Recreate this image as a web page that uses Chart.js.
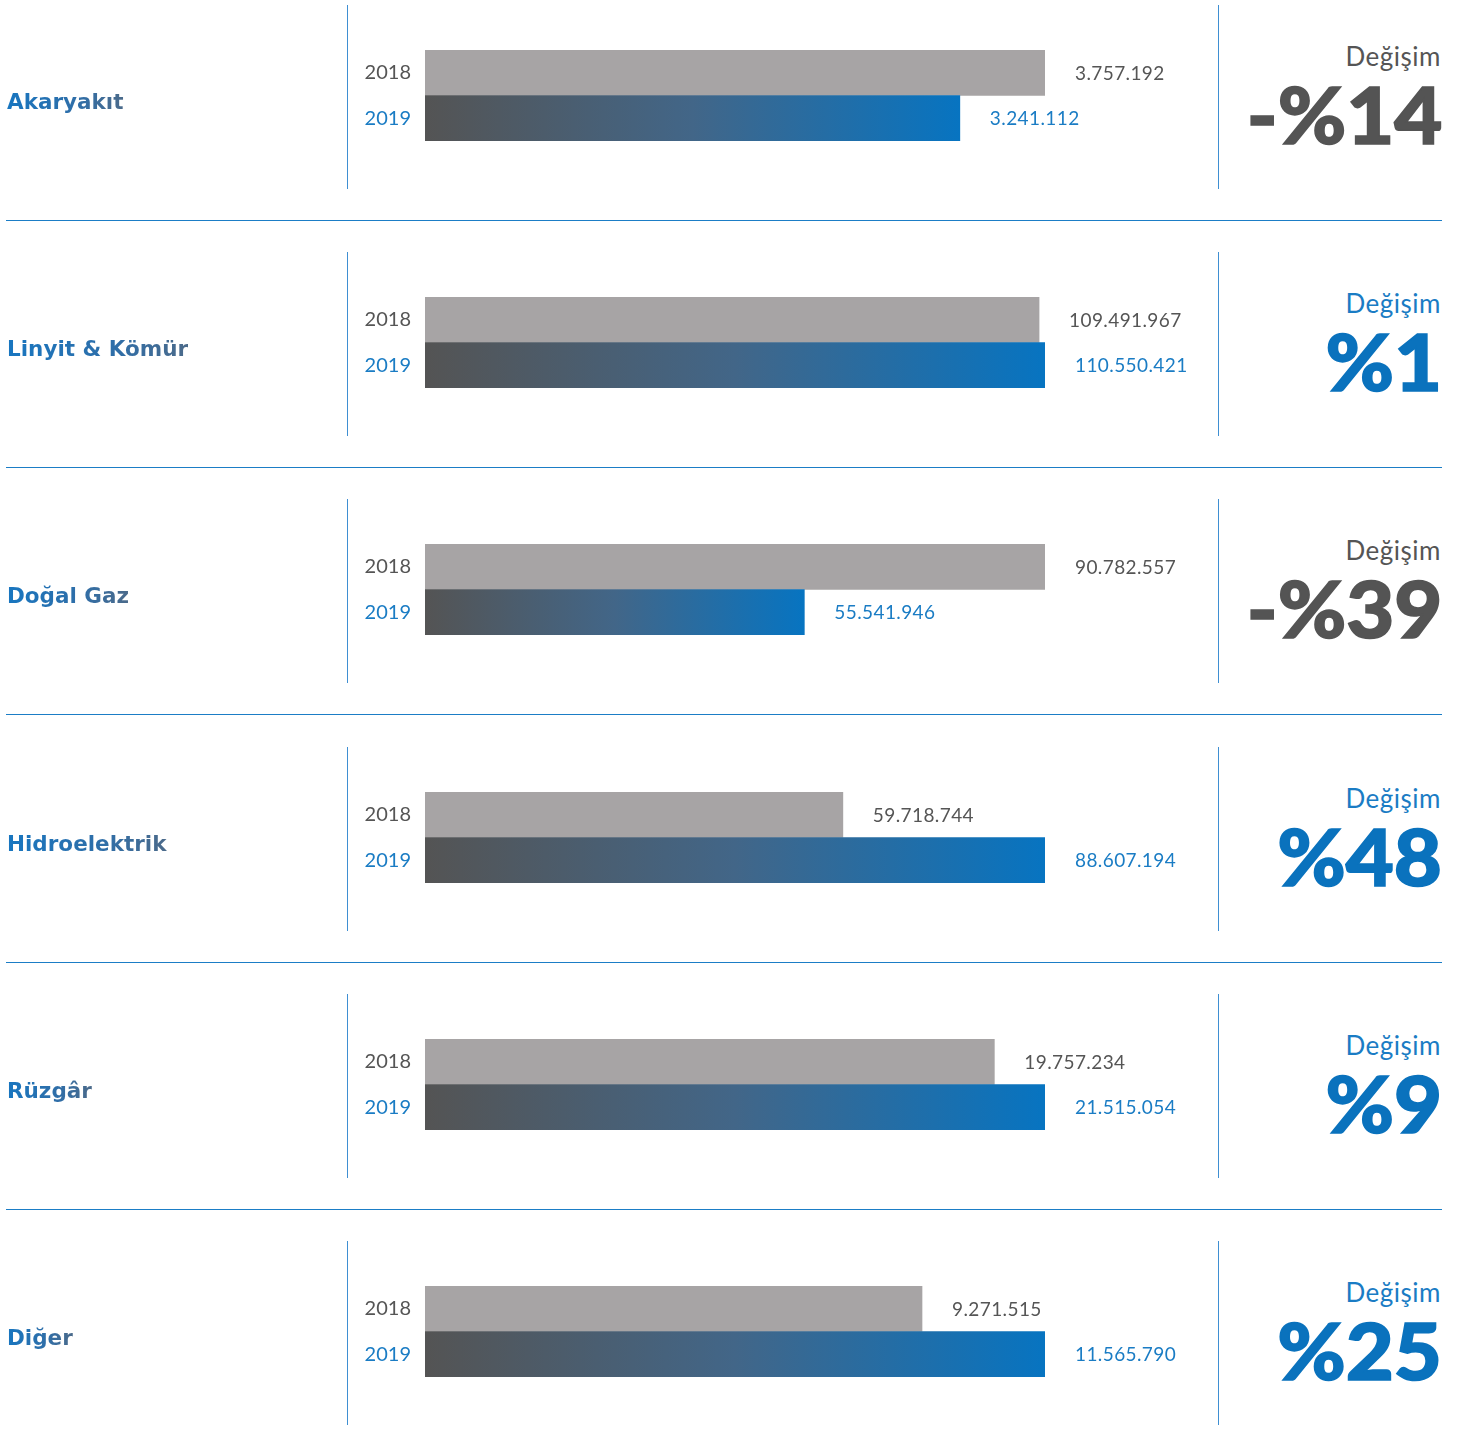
<!DOCTYPE html>
<html>
<head>
<meta charset="utf-8">
<script src="https://cdn.jsdelivr.net/npm/chart.js@4/dist/chart.umd.min.js"></script>
<style>
  html, body { margin: 0; padding: 0; background: #ffffff; }
  #wrap { position: relative; width: 1462px; height: 1448px; overflow: hidden; font-family: Lato, "Noto Sans", sans-serif; }
  .row { position: absolute; left: 0; width: 1462px; height: 247px; }
  .cat { position: absolute; left: 7px; top: 89px; font-family: "DejaVu Sans", sans-serif; font-size: 21.5px; font-weight: 700; line-height: 26px; white-space: nowrap;
         background: linear-gradient(90deg, #1876c0 0%, #2f6ea8 60%, #4b6a8a 100%); -webkit-background-clip: text; background-clip: text; color: transparent; }
  .vline { position: absolute; top: 5px; width: 1px; height: 184px; background: #3f8fd2; }
  .sep { position: absolute; left: 6px; top: 220px; width: 1436px; height: 1px; background: #1b7dc6; }
  .chg { position: absolute; right: 21px; top: 41px; font-size: 26px; line-height: 30px; font-weight: 400; text-align: right; white-space: nowrap; letter-spacing: 0.5px; }
  .big { position: absolute; right: 20px; top: 74px; font-size: 79px; line-height: 80px; font-weight: 900; text-align: right; white-space: nowrap;
         transform: scaleX(1.05); transform-origin: right center; }
  canvas.bars { position: absolute; left: 350px; top: 10px; }
</style>
</head>
<body>
<div id="wrap"></div>
<script>
// ---- data ----
const categories = ["Akaryakıt", "Linyit & Kömür", "Doğal Gaz", "Hidroelektrik", "Rüzgâr", "Diğer"];
const yearLabels = ["2018", "2019"];
const values2018 = [3757192, 109491967, 90782557, 59718744, 19757234, 9271515];
const values2019 = [3241112, 110550421, 55541946, 88607194, 21515054, 11565790];
const changeLabels = ["-%14", "%1", "-%39", "%48", "%9", "%25"];
const changeTitle = "Değişim";

// ---- styles ----
const GRAY_BAR = "#a7a4a5";
const DARK = "#555555";
const BLUE = "#1a7cc4";
const BIG_BLUE = "#0a72bd";
const ROW_H = 247.2;

function fmt(n) {
  return String(n).replace(/\B(?=(\d{3})+(?!\d))/g, ".");
}

const valueLabelPlugin = {
  id: "valueLabels",
  afterDatasetsDraw(chart) {
    const ctx = chart.ctx;
    const meta = chart.getDatasetMeta(0);
    const data = chart.data.datasets[0].data;
    ctx.save();
    ctx.font = "400 19px Lato, 'Noto Sans', sans-serif";
    try { ctx.letterSpacing = "0.4px"; } catch (e) {}
    ctx.textBaseline = "middle";
    ctx.textAlign = "left";
    meta.data.forEach((bar, i) => {
      ctx.fillStyle = i === 0 ? DARK : BLUE;
      ctx.fillText(fmt(data[i]), bar.x + 30, bar.y + 1);
    });
    ctx.restore();
  }
};

const wrap = document.getElementById("wrap");

categories.forEach((cat, r) => {
  const row = document.createElement("div");
  row.className = "row";
  row.style.top = (r * ROW_H) + "px";
  wrap.appendChild(row);

  const c = document.createElement("div");
  c.className = "cat";
  c.textContent = cat;
  row.appendChild(c);

  const v1 = document.createElement("div");
  v1.className = "vline"; v1.style.left = "347px";
  row.appendChild(v1);
  const v2 = document.createElement("div");
  v2.className = "vline"; v2.style.left = "1218px";
  row.appendChild(v2);

  if (r < categories.length - 1) {
    const s = document.createElement("div");
    s.className = "sep";
    row.appendChild(s);
  }

  const negative = changeLabels[r].startsWith("-");
  const t = document.createElement("div");
  t.className = "chg";
  t.textContent = changeTitle;
  t.style.color = negative ? DARK : BLUE;
  row.appendChild(t);

  const b = document.createElement("div");
  b.className = "big";
  b.textContent = changeLabels[r];
  const bc = negative ? "#545454" : BIG_BLUE;
  b.style.color = bc;
  b.style.webkitTextStroke = "1.6px " + bc;
  row.appendChild(b);

  const cv = document.createElement("canvas");
  cv.className = "bars";
  cv.width = 868; cv.height = 172;
  cv.style.width = "868px"; cv.style.height = "172px";
  row.appendChild(cv);

  const vals = [values2018[r], values2019[r]];
  const maxV = Math.max(vals[0], vals[1]);

  new Chart(cv.getContext("2d"), {
    type: "bar",
    data: {
      labels: yearLabels,
      datasets: [{
        data: vals,
        backgroundColor: (context) => {
          if (context.dataIndex === 0) return GRAY_BAR;
          const chart = context.chart;
          if (!chart.chartArea || !chart.scales.x) return "#3f6790";
          const xs = chart.scales.x;
          const x0 = xs.getPixelForValue(0);
          const x1 = xs.getPixelForValue(context.raw);
          const g = chart.ctx.createLinearGradient(x0, 0, x1, 0);
          g.addColorStop(0, "#545454");
          g.addColorStop(0.5, "#426688");
          g.addColorStop(1, "#0774c1");
          return g;
        },
        borderWidth: 0,
        barPercentage: 1,
        categoryPercentage: 1
      }]
    },
    options: {
      indexAxis: "y",
      responsive: false,
      animation: false,
      devicePixelRatio: 1,
      layout: { padding: { top: 40, bottom: 41, left: 0, right: 173 } },
      plugins: { legend: { display: false }, tooltip: { enabled: false } },
      scales: {
        x: { display: false, min: 0, max: maxV },
        y: {
          grid: { display: false, drawTicks: false },
          border: { display: false },
          afterFit: (s) => { s.width = 75; },
          ticks: {
            padding: 14,
            font: { family: "Lato, 'Noto Sans', sans-serif", size: 20, weight: "400" },
            color: (ctx) => ctx.index === 0 ? DARK : BLUE
          }
        }
      }
    },
    plugins: [valueLabelPlugin]
  });
});
</script>
</body>
</html>
